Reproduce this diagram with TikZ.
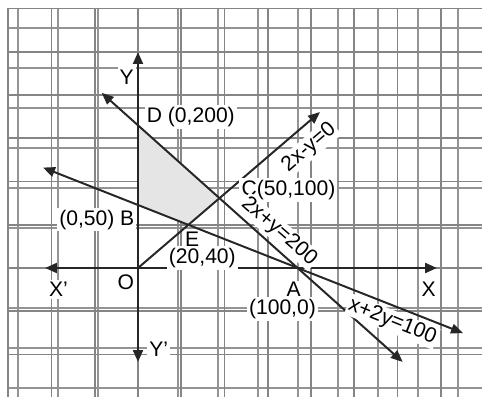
\documentclass[tikz,border=0pt]{standalone}
\usepackage{fontspec}
\setmainfont{Liberation Sans}
\usetikzlibrary{arrows.meta}
\tikzset{
  gridminor/.style={draw=black!42, line width=0.8pt},
  gridmajor/.style={draw=black!48, line width=1.3pt},
  axisline/.style={draw=black!85, line width=1.7pt},
  graphline/.style={draw=black!85, line width=1.4pt},
  feasible/.style={fill=black!10},
  ptlabel/.style={fill=white, inner sep=1.5pt, font=\fontsize{15}{17}\selectfont},
  eqlabel/.style={ptlabel, inner sep=1pt},
}

\begin{document}
\begin{tikzpicture}[x=0.21625cm, y=0.21625cm, >={Triangle[length=8.5pt,width=7pt]}]
  \useasboundingbox (-15.954,-14.798) rectangle (39.769,30.983);
  % graph paper
  \begin{scope}
    \clip (-15.954,-14.798) rectangle (39.769,30.983);
    \draw[gridminor] (-15,-15) grid (40,30);
    \draw[gridmajor, step=5] (-15,-15) grid (40,30);
  \end{scope}
  % corner points
  \coordinate (O) at (0,0);
  \coordinate (A) at (18.46,0);
  \coordinate (B) at (0,7.28);
  \coordinate (C) at (9.42,8.08);
  \coordinate (D) at (0,16.5);
  \coordinate (E) at (5.82,4.99);
  % line ends
  \coordinate (xl) at (-10.75,0);
  \coordinate (xr) at (34.57,0);
  \coordinate (yt) at (0,24.97);
  \coordinate (yb) at (0,-10.87);
  \coordinate (da1) at (-4.2,20.25);
  \coordinate (da2) at (30.6,-10.86);
  \coordinate (ba1) at (-10.98,11.61);
  \coordinate (ba2) at (37.57,-7.52);
  \coordinate (oc) at (21.04,18.03);
  % feasible region
  \fill[feasible] (D) -- (C) -- (E) -- (B) -- cycle;
  % lines
  \draw[graphline, <->] (da1) -- (da2);
  \draw[graphline, <->] (ba1) -- (ba2);
  \draw[graphline, ->] (O) -- (oc);
  \draw[axisline, <->] (xl) -- (xr);
  \draw[axisline, <->] (yb) -- (yt);
  % labels
  \node[ptlabel] (ly) at (-1.3,22.1) {Y};
  \node[ptlabel] (lyy) at (2.4,-9.4) {Y'};
  \node[ptlabel] (lx) at (33.6,-2.4) {X};
  \node[ptlabel] (lxx) at (-9.2,-2.5) {X'};
  \node[ptlabel] (lo) at (-1.4,-1.7) {O};
  \node[ptlabel, anchor=west] (ld) at (0.75,17.5) {D (0,200)};
  \node[ptlabel, anchor=west] (lc) at (11.7,9.0) {C(50,100)};
  \node[ptlabel, anchor=east] (lb) at (-0.15,5.6) {(0,50) B};
  \node[ptlabel, inner sep=0.5pt] (le) at (6.25,3.35) {E};
  \node[ptlabel, anchor=west] (le2) at (3.3,1.2) {(20,40)};
  \node[ptlabel, inner sep=0.5pt] (la) at (18.0,-2.4) {A};
  \node[ptlabel] (la2) at (16.7,-4.7) {(100,0)};
  \node[eqlabel, rotate=40.6] (eq1) at (19.8,13.9) {2x-y=0};
  \node[eqlabel, rotate=-41] (eq2) at (16.3,4.2) {2x+y=200};
  \node[eqlabel, rotate=-22] (eq3) at (29.4,-6.2) {x+2y=100};
\end{tikzpicture}
\end{document}
